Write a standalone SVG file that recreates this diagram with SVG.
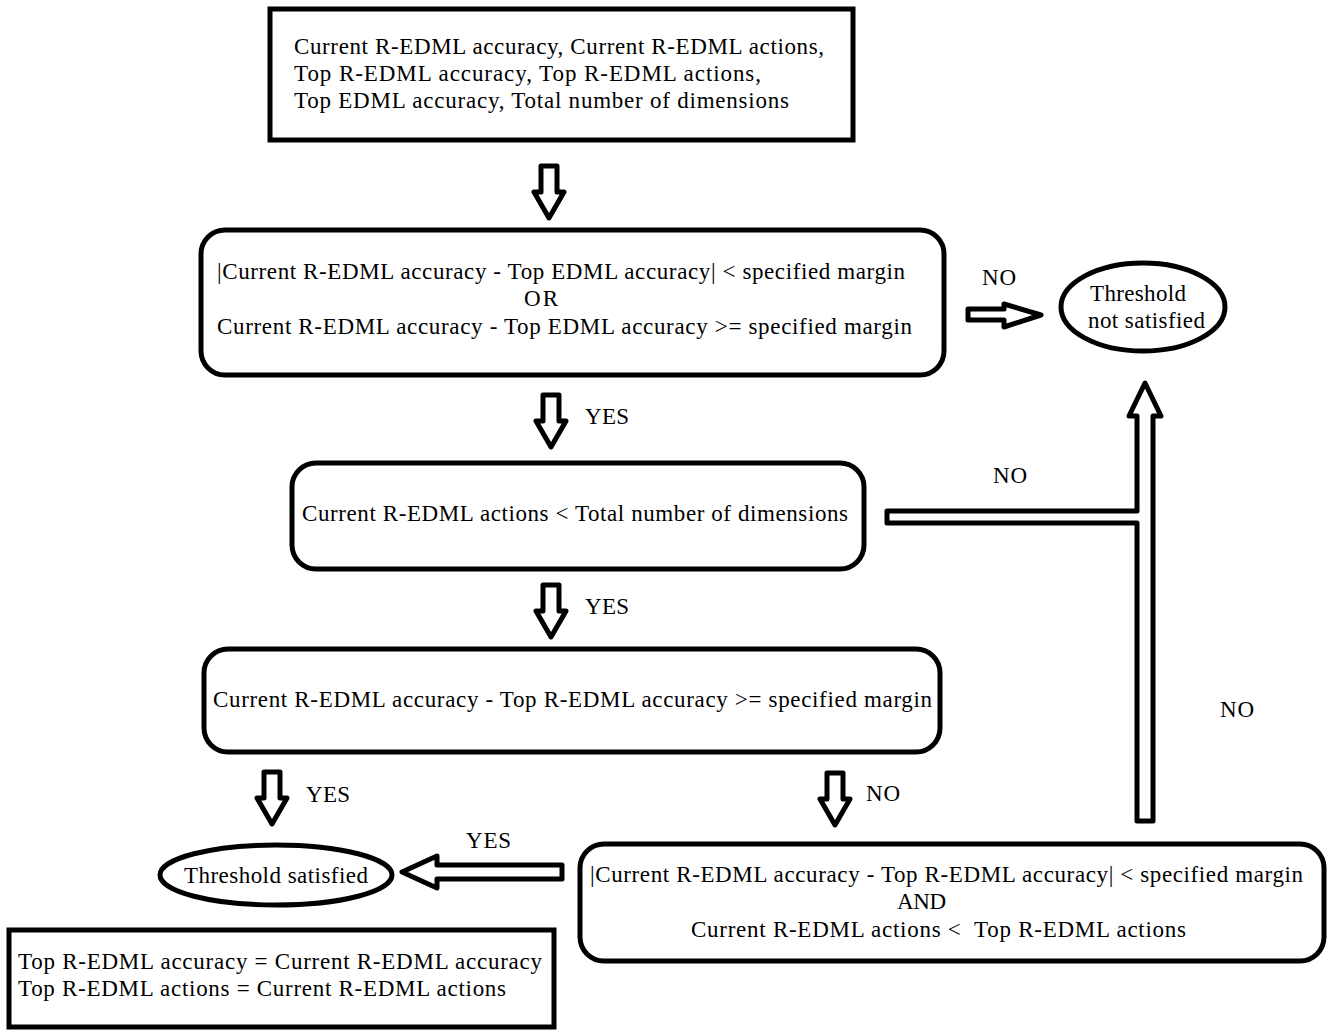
<svg xmlns="http://www.w3.org/2000/svg" width="1333" height="1030" viewBox="0 0 1333 1030">
  <style>
    .box { fill: #fff; stroke: #000; stroke-width: 5; }
    .arrow { fill: #fff; stroke: #000; stroke-width: 5; stroke-linejoin: round; }
    text { font-family: "Liberation Serif", "Times New Roman", serif; font-size: 23px; fill: #000; }
  </style>
  <defs>
    <!-- hollow block arrow pointing down, origin at top of the shaft centre -->
    <path id="down" d="M -8 0 L 8 0 L 8 26 L 15 26 L 0 52 L -15 26 L -8 26 Z"/>
  </defs>
  <rect width="1333" height="1030" fill="#fff"/>

  <g id="connectors">
    <use href="#down" class="arrow" transform="translate(549,166)"/>
    <use href="#down" class="arrow" transform="translate(551,395)"/>
    <use href="#down" class="arrow" transform="translate(551,585)"/>
    <use href="#down" class="arrow" transform="translate(272,772)"/>
    <use href="#down" class="arrow" transform="translate(835,773)"/>
    <!-- to "Threshold not satisfied" -->
    <path class="arrow" d="M 968 309 L 1004 309 L 1004 304 L 1041 315 L 1004 327 L 1004 320 L 968 320 Z"/>
    <!-- merged NO path up to "Threshold not satisfied" -->
    <path class="arrow" d="M 887 511 L 1137 511 L 1137 416 L 1129 416 L 1145 383 L 1161 416 L 1153 416 L 1153 821 L 1137 821 L 1137 523 L 887 523 Z"/>
    <!-- to "Threshold satisfied" -->
    <path class="arrow" d="M 562 865 L 437 865 L 437 856 L 402 872 L 437 888 L 437 879 L 562 879 Z"/>
    <text x="982" y="285" textLength="34">NO</text>
    <text x="585" y="424" textLength="44">YES</text>
    <text x="993" y="483" textLength="34">NO</text>
    <text x="585" y="614" textLength="44">YES</text>
    <text x="1220" y="717" textLength="34">NO</text>
    <text x="306" y="802" textLength="44">YES</text>
    <text x="866" y="801" textLength="34">NO</text>
    <text x="466" y="848" textLength="45">YES</text>
  </g>

  <g id="inputs">
    <rect class="box" x="270" y="9" width="583" height="131"/>
    <text x="294" y="54" textLength="530">Current R-EDML accuracy, Current R-EDML actions,</text>
    <text x="294" y="81" textLength="467">Top R-EDML accuracy, Top R-EDML actions,</text>
    <text x="294" y="108" textLength="495">Top EDML accuracy, Total number of dimensions</text>
  </g>

  <g id="margin-check">
    <rect class="box" x="201" y="230" width="743" height="145" rx="24"/>
    <text x="217" y="279" textLength="688">|Current R-EDML accuracy - Top EDML accuracy| &lt; specified margin</text>
    <text x="524" y="306" textLength="34">OR</text>
    <text x="217" y="334" textLength="695">Current R-EDML accuracy - Top EDML accuracy &gt;= specified margin</text>
  </g>

  <g id="not-satisfied">
    <ellipse class="box" cx="1143" cy="307" rx="82" ry="44"/>
    <text x="1090" y="301" textLength="96">Threshold</text>
    <text x="1088" y="328" textLength="117">not satisfied</text>
  </g>

  <g id="actions-check">
    <rect class="box" x="292" y="463" width="572" height="106" rx="24"/>
    <text x="302" y="521" textLength="546">Current R-EDML actions &lt; Total number of dimensions</text>
  </g>

  <g id="improvement-check">
    <rect class="box" x="204" y="649" width="736" height="103" rx="24"/>
    <text x="213" y="707" textLength="719">Current R-EDML accuracy - Top R-EDML accuracy &gt;= specified margin</text>
  </g>

  <g id="tie-check">
    <rect class="box" x="580" y="844" width="744" height="117" rx="24"/>
    <text x="590" y="882" textLength="713">|Current R-EDML accuracy - Top R-EDML accuracy| &lt; specified margin</text>
    <text x="897" y="909" textLength="49">AND</text>
    <text x="691" y="937" textLength="495">Current R-EDML actions &lt;&#160; Top R-EDML actions</text>
  </g>

  <g id="satisfied">
    <ellipse class="box" cx="276" cy="875" rx="116" ry="30"/>
    <text x="184" y="883" textLength="184">Threshold satisfied</text>
  </g>

  <g id="update">
    <rect class="box" x="9" y="930" width="545" height="97" stroke-width="6"/>
    <text x="18" y="969" textLength="524">Top R-EDML accuracy = Current R-EDML accuracy</text>
    <text x="18" y="996" textLength="488">Top R-EDML actions = Current R-EDML actions</text>
  </g>
</svg>
